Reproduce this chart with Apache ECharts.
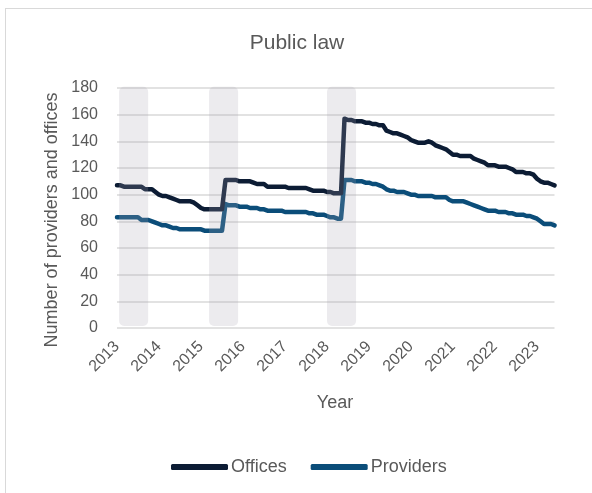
<!DOCTYPE html>
<html>
<head>
<meta charset="utf-8">
<script src="https://cdn.jsdelivr.net/npm/echarts@6/dist/echarts.min.js"></script>
<style>
  html, body { margin: 0; padding: 0; background: #ffffff; }
  #frame { position: absolute; left: 5px; top: 8px; width: 700px; height: 600px;
           border: 1px solid #d9d9d9; box-sizing: border-box; }
  #chart { position: absolute; left: 0; top: 0; width: 592px; height: 493px; }
</style>
</head>
<body>
<div id="frame"></div>
<div id="chart"></div>
<script>
// Monthly series, January 2013 onwards (one value per month)
const startYear = 2013;
const yearTicks = ['2013', '2014', '2015', '2016', '2017', '2018', '2019', '2020', '2021', '2022', '2023'];

const offices = [
  107, 107, 106, 106, 106, 106, 106, 106,
  104, 104, 104,
  102, 100,
  99, 99, 98,
  97, 96, 95,
  95, 95, 95, 94,
  92,
  90, 89, 89, 89, 89, 89, 89,
  111, 111, 111, 111,
  110, 110, 110, 110, 109,
  108, 108, 108,
  106, 106, 106, 106, 106, 106, 105,
  105, 105, 105, 105, 105, 104,
  103, 103, 103, 103,
  102, 102, 101, 101, 101,
  157,
  156, 156, 155, 155, 155,
  154, 154, 153, 153, 152,
  152, 148, 147, 146, 146,
  145, 144, 143, 141, 140, 139,
  139, 139, 140, 139,
  137, 136, 135, 134,
  132, 130, 130, 129, 129, 129,
  129, 127, 126, 125, 124, 122,
  122, 122, 121, 121, 121,
  120, 119, 117, 117, 117, 116,
  116, 115, 112, 110, 109, 109, 108, 107
];

const providers = [
  83, 83, 83, 83, 83, 83, 83,
  81, 81, 81, 80,
  79, 78, 77,
  77, 76, 75, 75,
  74, 74, 74, 74, 74, 74,
  74, 73, 73, 73, 73, 73, 73,
  93, 92, 92, 92,
  91, 91, 91, 90, 90,
  90, 89, 89, 88, 88,
  88, 88, 88, 87, 87,
  87, 87, 87, 87, 87, 86, 86,
  85, 85, 85, 84,
  83, 83, 82, 82,
  111,
  111, 111, 110, 110, 110,
  109, 109, 108, 108, 107,
  106, 104, 103, 103,
  102, 102, 102, 101, 100,
  100, 99, 99, 99, 99,
  99, 98, 98, 98, 98,
  96, 95, 95, 95, 95,
  94, 93, 92, 91, 90,
  89, 88, 88, 88, 87,
  87, 87, 86, 86, 85,
  85, 85, 84, 84, 83,
  82, 80, 78, 78, 78, 77
];

// Highlighted periods, in months from January 2013: [start, end]
const periodStarts = [0.6, 26.3, 60.0];
const periodEnds = [8.9, 34.6, 68.3];
const periodLow = 1.5;
const periodHigh = 181;

const officeColor = '#0c1c34';
const providerColor = '#0b4d79';
const textColor = '#595959';
const fontFamily = '"Liberation Sans", Arial, sans-serif';

const toPairs = arr => arr.map((v, i) => [i, v]);
const lastMonth = offices.length - 1;

const periods = periodStarts.map((s, i) => [s, periodEnds[i], periodLow, periodHigh]);

const chart = echarts.init(document.getElementById('chart'), null, { renderer: 'canvas' });

chart.setOption({
  animation: false,
  textStyle: { fontFamily: fontFamily },
  grid: { left: 117, right: 37.5, top: 88, bottom: 165, containLabel: false },
  xAxis: {
    type: 'value',
    min: 0,
    max: lastMonth,
    interval: 12,
    axisLine: { show: false },
    axisTick: { show: false },
    splitLine: { show: false },
    axisLabel: {
      rotate: 45,
      margin: 16,
      fontSize: 16,
      color: textColor,
      fontFamily: fontFamily,
      showMaxLabel: false,
      formatter: v => (v % 12 === 0 ? yearTicks[v / 12] : '')
    }
  },
  yAxis: {
    type: 'value',
    min: 0,
    max: 180,
    interval: 20,
    axisLine: { show: false },
    axisTick: { show: false },
    axisLabel: { fontSize: 16, color: textColor, margin: 19, fontFamily: fontFamily },
    splitLine: { lineStyle: { color: '#d9d9d9', width: 1.5 } }
  },
  legend: {
    data: ['Offices', 'Providers'],
    left: 166,
    top: 453,
    icon: 'roundRect',
    itemWidth: 57,
    itemHeight: 6,
    itemGap: 24,
    textStyle: { fontSize: 18, color: textColor, fontFamily: fontFamily, padding: [0, 0, 0, -2] }
  },
  graphic: [
    {
      type: 'text', x: 297, y: 43,
      style: { text: 'Public law', fill: textColor, font: '21px ' + fontFamily, textAlign: 'center', textVerticalAlign: 'middle' }
    },
    {
      type: 'text', x: 335, y: 403,
      style: { text: 'Year', fill: textColor, font: '18px ' + fontFamily, textAlign: 'center', textVerticalAlign: 'middle' }
    },
    {
      type: 'text', x: 52, y: 220, rotation: Math.PI / 2,
      style: { text: 'Number of providers and offices', fill: textColor, font: '18px ' + fontFamily, textAlign: 'center', textVerticalAlign: 'middle' }
    }
  ],
  series: [
    {
      name: 'Offices',
      type: 'line',
      data: toPairs(offices),
      showSymbol: false,
      color: officeColor,
      lineStyle: { width: 4.5, color: officeColor, join: 'round', cap: 'round' },
      z: 3
    },
    {
      name: 'Providers',
      type: 'line',
      data: toPairs(providers),
      showSymbol: false,
      color: providerColor,
      lineStyle: { width: 4.5, color: providerColor, join: 'round', cap: 'round' },
      z: 2
    },
    {
      name: 'periods',
      type: 'custom',
      data: periods,
      z: 5,
      silent: true,
      renderItem: function (params, api) {
        const p0 = api.coord([api.value(0), api.value(3)]);
        const p1 = api.coord([api.value(1), api.value(2)]);
        return {
          type: 'rect',
          shape: { x: p0[0], y: p0[1], width: p1[0] - p0[0], height: p1[1] - p0[1], r: 5 },
          style: { fill: 'rgba(168,165,178,0.22)' }
        };
      }
    }
  ]
});
</script>
</body>
</html>
